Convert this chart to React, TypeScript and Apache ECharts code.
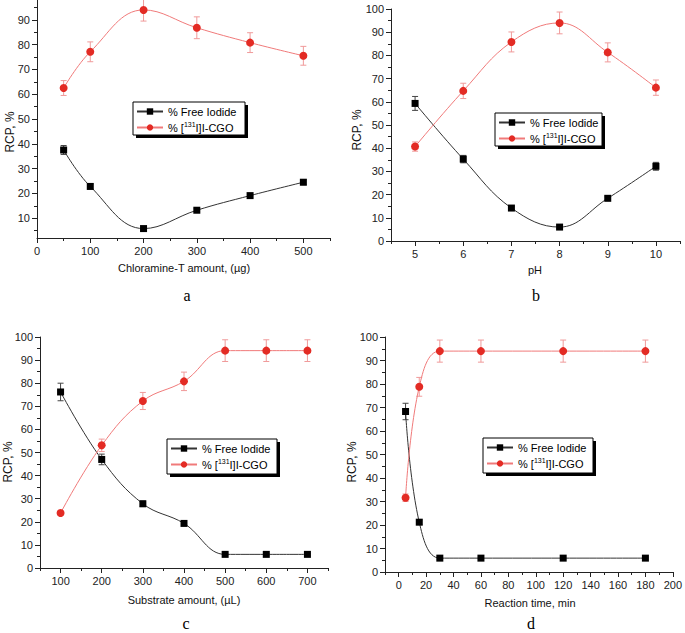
import React, { useEffect, useRef } from "react";
import * as echarts from "echarts";

// Panel a: Chloramine-T amount
const aX = [50, 100, 200, 300, 400, 500];
const aFree = [37.5, 22.8, 5.8, 13.2, 19.1, 24.5];
const aFreeErr = [1.8, 1.0, 0.5, 0.6, 0.6, 1.0];
const aCgo = [62.5, 77.1, 94.0, 86.8, 80.8, 75.5];
const aCgoErr = [3.0, 4.0, 4.5, 4.4, 4.0, 3.8];

// Panel b: pH
const bX = [5, 6, 7, 8, 9, 10];
const bFree = [59.3, 35.3, 14.2, 6.0, 18.4, 32.2];
const bFreeErr = [3.0, 1.6, 0.6, 0.5, 0.6, 1.7];
const bCgo = [40.7, 64.7, 85.8, 94.0, 81.3, 66.1];
const bCgoErr = [2.0, 3.3, 4.3, 4.7, 4.1, 3.3];

// Panel c: Substrate amount
const cX = [100, 200, 300, 400, 500, 600, 700];
const cFree = [76.2, 47.0, 27.8, 19.3, 5.9, 5.9, 5.9];
const cFreeErr = [3.8, 2.3, 1.2, 0.8, 0.4, 0.4, 0.4];
const cCgo = [23.8, 53.1, 72.3, 80.8, 94.1, 94.1, 94.1];
const cCgoErr = [1.0, 2.7, 3.7, 4.0, 4.7, 4.7, 4.7];

// Panel d: Reaction time
const dX = [5, 15, 30, 60, 120, 180];
const dFree = [68.3, 21.2, 5.9, 5.9, 5.9, 5.9];
const dFreeErr = [3.5, 1.0, 0.4, 0.4, 0.4, 0.4];
const dCgo = [31.6, 78.8, 94.0, 94.0, 94.0, 94.0];
const dCgoErr = [1.6, 4.0, 4.7, 4.7, 4.7, 4.7];

// Tick values
const aXMajor = [0, 100, 200, 300, 400, 500];
const aXMinor = [50, 150, 250, 350, 450, 550];
const aYMajor = [10, 20, 30, 40, 50, 60, 70, 80, 90];
const aYMinor = [5, 15, 25, 35, 45, 55, 65, 75, 85, 95];
const bXMajor = [5, 6, 7, 8, 9, 10];
const bXMinor = [4.5, 5.5, 6.5, 7.5, 8.5, 9.5, 10.5];
const yMajor100 = [0, 10, 20, 30, 40, 50, 60, 70, 80, 90, 100];
const yMinor100 = [5, 15, 25, 35, 45, 55, 65, 75, 85, 95];
const cXMajor = [100, 200, 300, 400, 500, 600, 700];
const cXMinor = [50, 150, 250, 350, 450, 550, 650, 750];
const dXMajor = [0, 20, 40, 60, 80, 100, 120, 140, 160, 180, 200];
const dXMinor = [-10, 10, 30, 50, 70, 90, 110, 130, 150, 170, 190];

const FREE = "% Free Iodide";
const CGO = "% [131I]I-CGO";
const FONT = "Liberation Sans, Arial, sans-serif";
const AXC = "#222";

const panels = [
  { grid: { left: 37, top: 0, width: 293, height: 238 }, xMin: 0, xMax: 550, yMin: 2, yMax: 98,
    xMaj: aXMajor, xMin2: aXMinor, yMaj: aYMajor, yMin2: aYMinor,
    x: aX, free: aFree, freeErr: aFreeErr, cgo: aCgo, cgoErr: aCgoErr,
    legend: { left: 133, top: 102, w: 112, h: 33 },
    xName: "Chloramine-T amount, (µg)", xNamePos: [184, 268], letter: "a", letterPos: [187, 295], yNamePos: [10, 132] },
  { grid: { left: 391, top: 9, width: 289, height: 232 }, xMin: 4.5, xMax: 10.5, yMin: 0, yMax: 100,
    xMaj: bXMajor, xMin2: bXMinor, yMaj: yMajor100, yMin2: yMinor100,
    x: bX, free: bFree, freeErr: bFreeErr, cgo: bCgo, cgoErr: bCgoErr,
    legend: { left: 495, top: 113, w: 107, h: 33 },
    xName: "pH", xNamePos: [535, 270], letter: "b", letterPos: [536, 295], yNamePos: [357, 130] },
  { grid: { left: 40, top: 337, width: 288, height: 231 }, xMin: 50, xMax: 750, yMin: 0, yMax: 100,
    xMaj: cXMajor, xMin2: cXMinor, yMaj: yMajor100, yMin2: yMinor100,
    x: cX, free: cFree, freeErr: cFreeErr, cgo: cCgo, cgoErr: cCgoErr,
    legend: { left: 167, top: 439, w: 110, h: 35 },
    xName: "Substrate amount, (µL)", xNamePos: [184, 600], letter: "c", letterPos: [186, 623], yNamePos: [8, 462] },
  { grid: { left: 385, top: 337, width: 290, height: 235 }, xMin: -10, xMax: 200, yMin: 0, yMax: 100,
    xMaj: dXMajor, xMin2: dXMinor, yMaj: yMajor100, yMin2: yMinor100,
    x: dX, free: dFree, freeErr: dFreeErr, cgo: dCgo, cgoErr: dCgoErr,
    legend: { left: 483, top: 438, w: 110, h: 35 },
    xName: "Reaction time, min", xNamePos: [530, 603], letter: "d", letterPos: [531, 623], yNamePos: [352, 462] },
];

function errRender(color: string) {
  return (params: any, api: any) => {
    const x = api.value(0);
    const y = api.value(1);
    const e = api.value(2);
    const hi = api.coord([x, y + e]);
    const lo = api.coord([x, y - e]);
    const w = 3;
    const style = { stroke: color, lineWidth: 1 };
    return {
      type: "group",
      children: [
        { type: "line", shape: { x1: hi[0], y1: hi[1], x2: lo[0], y2: lo[1] }, style },
        { type: "line", shape: { x1: hi[0] - w, y1: hi[1], x2: hi[0] + w, y2: hi[1] }, style },
        { type: "line", shape: { x1: lo[0] - w, y1: lo[1], x2: lo[0] + w, y2: lo[1] }, style },
      ],
    };
  };
}

function buildOption() {
  const grid: any[] = [];
  const xAxis: any[] = [];
  const yAxis: any[] = [];
  const series: any[] = [];
  const legend: any[] = [];
  const graphic: any[] = [];

  panels.forEach((p, i) => {
    grid.push({ ...p.grid, containLabel: false });
    const labelStyle = { fontSize: 11, color: AXC, fontFamily: FONT };
    xAxis.push({
      type: "value", gridIndex: i, min: p.xMin, max: p.xMax, position: "bottom",
      axisLine: { show: true, onZero: false, lineStyle: { color: AXC, width: 1 } },
      axisTick: { show: true, customValues: p.xMaj, length: 5, lineStyle: { color: AXC } },
      axisLabel: { customValues: p.xMaj, margin: 7, ...labelStyle },
      splitLine: { show: false },
    });
    xAxis.push({
      type: "value", gridIndex: i, min: p.xMin, max: p.xMax, position: "bottom",
      axisLine: { show: false, onZero: false },
      axisTick: { show: true, customValues: p.xMin2, length: 3, lineStyle: { color: AXC } },
      axisLabel: { show: false },
      splitLine: { show: false },
    });
    yAxis.push({
      type: "value", gridIndex: i, min: p.yMin, max: p.yMax, position: "left",
      axisLine: { show: true, onZero: false, lineStyle: { color: AXC, width: 1 } },
      axisTick: { show: true, customValues: p.yMaj, length: 5, lineStyle: { color: AXC } },
      axisLabel: { customValues: p.yMaj, margin: 7, ...labelStyle },
      splitLine: { show: false },
    });
    yAxis.push({
      type: "value", gridIndex: i, min: p.yMin, max: p.yMax, position: "left",
      axisLine: { show: false, onZero: false },
      axisTick: { show: true, customValues: p.yMin2, length: 3, lineStyle: { color: AXC } },
      axisLabel: { show: false },
      splitLine: { show: false },
    });
    const xi = 2 * i;
    series.push({
      type: "custom", name: FREE + " err", xAxisIndex: xi, yAxisIndex: xi, clip: false,
      renderItem: errRender("#444"), encode: { x: 0, y: 1 },
      data: p.x.map((v, k) => [v, p.free[k], p.freeErr[k]]), z: 2,
    });
    series.push({
      type: "custom", name: CGO + " err", xAxisIndex: xi, yAxisIndex: xi, clip: false,
      renderItem: errRender("#f09a9a"), encode: { x: 0, y: 1 },
      data: p.x.map((v, k) => [v, p.cgo[k], p.cgoErr[k]]), z: 2,
    });
    series.push({
      type: "line", name: FREE, xAxisIndex: xi, yAxisIndex: xi, smooth: 0.4,
      symbol: "rect", symbolSize: 7, itemStyle: { color: "#000" },
      lineStyle: { color: "#333", width: 1 },
      data: p.x.map((v, k) => [v, p.free[k]]), z: 3,
    });
    series.push({
      type: "line", name: CGO, xAxisIndex: xi, yAxisIndex: xi, smooth: 0.4,
      symbol: "circle", symbolSize: 8, itemStyle: { color: "#e32b24" },
      lineStyle: { color: "#f07a7a", width: 1 },
      data: p.x.map((v, k) => [v, p.cgo[k]]), z: 3,
    });

    const L = p.legend;
    graphic.push({ type: "rect", shape: { x: L.left + 3, y: L.top + 3, width: L.w, height: L.h }, style: { fill: "#000" }, z: 1 });
    graphic.push({ type: "rect", shape: { x: L.left, y: L.top, width: L.w, height: L.h }, style: { fill: "#fff", stroke: "#000", lineWidth: 1 }, z: 2 });
    legend.push({
      left: L.left + 1, top: L.top + 3, orient: "vertical", itemGap: 4, padding: [1, 2, 1, 2],
      itemWidth: 26, itemHeight: 8, z: 10,
      data: [FREE, CGO],
      textStyle: {
        fontSize: 11, color: "#000", fontFamily: FONT,
        rich: { s: { fontSize: 7, fontFamily: FONT, color: "#000", padding: [0, 0, 6, 0] } },
      },
      formatter: (name: string) => (name === CGO ? "% [{s|131}I]I-CGO" : name),
    });

    graphic.push({
      type: "text", x: p.xNamePos[0], y: p.xNamePos[1],
      style: { text: p.xName, fontSize: 11, fontFamily: FONT, fill: "#111", align: "center", verticalAlign: "middle" },
    });
    graphic.push({
      type: "text", x: p.yNamePos[0], y: p.yNamePos[1], rotation: Math.PI / 2,
      style: { text: "RCP, %", fontSize: 12, fontFamily: FONT, fill: "#111", align: "center", verticalAlign: "middle" },
    });
    graphic.push({
      type: "text", x: p.letterPos[0], y: p.letterPos[1],
      style: { text: p.letter, fontSize: 16, fontFamily: "Liberation Serif, Times New Roman, serif", fill: "#000", align: "center", verticalAlign: "middle" },
    });
  });

  return { animation: false, backgroundColor: "#fff", grid, xAxis, yAxis, series, legend, graphic };
}

export default function App() {
  const ref = useRef<HTMLDivElement>(null);
  useEffect(() => {
    if (!ref.current) return;
    const chart = echarts.init(ref.current, undefined, { renderer: "svg" });
    chart.setOption(buildOption() as any);
    return () => chart.dispose();
  }, []);
  return <div ref={ref} style={{ position: "fixed", left: 0, top: 0, width: 685, height: 633, background: "#fff" }} />;
}
